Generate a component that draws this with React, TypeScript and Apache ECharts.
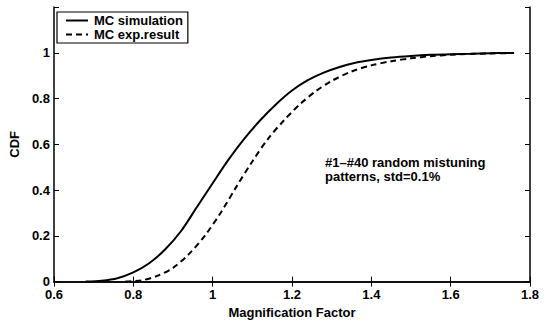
import React, { useEffect, useRef } from "react";
import * as echarts from "echarts";

const simX = [0.68, 0.72, 0.76, 0.8, 0.84, 0.88, 0.92, 0.96, 1.0, 1.04, 1.08, 1.12, 1.16, 1.2, 1.24, 1.28, 1.32, 1.36, 1.4, 1.45, 1.5, 1.55, 1.6, 1.65, 1.7, 1.75];
const simY = [0, 0.004, 0.015, 0.04, 0.08, 0.14, 0.22, 0.325, 0.43, 0.533, 0.625, 0.705, 0.775, 0.835, 0.88, 0.913, 0.938, 0.956, 0.968, 0.979, 0.986, 0.991, 0.994, 0.996, 0.998, 0.999];
const expX = [0.78, 0.82, 0.86, 0.9, 0.94, 0.98, 1.02, 1.06, 1.1, 1.14, 1.18, 1.22, 1.26, 1.3, 1.35, 1.4, 1.45, 1.5, 1.55, 1.6, 1.65, 1.7, 1.76];
const expY = [0, 0.005, 0.025, 0.06, 0.12, 0.2, 0.3, 0.415, 0.525, 0.625, 0.705, 0.775, 0.832, 0.877, 0.918, 0.945, 0.963, 0.976, 0.985, 0.991, 0.995, 0.997, 0.999];
const seriesNames = ["MC simulation", "MC exp.result"];
const annotation = ["#1\u2013#40 random mistuning", "patterns, std=0.1%"];
const xTitle = "Magnification Factor";
const yTitle = "CDF";

const FONT = "'Liberation Sans', Arial, Helvetica, sans-serif";

export default function App() {
  const ref = useRef<HTMLDivElement>(null);
  useEffect(() => {
    if (!ref.current) return;
    const chart = echarts.init(ref.current, null, { renderer: "svg" });
    const txt = { fontFamily: FONT, fontWeight: "bold" as const, fontSize: 13, color: "#000" };
    const axisLine = { show: true, lineStyle: { color: "#000", width: 1.5 } };
    const tick = { show: true, inside: true, length: 5, lineStyle: { color: "#000", width: 1 } };
    chart.setOption({
      animation: false,
      backgroundColor: "#fff",
      grid: { left: 52, right: 18, top: 7, bottom: 39, containLabel: false },
      legend: {
        show: true,
        orient: "vertical",
        left: 57,
        top: 12,
        padding: [2, 5, 2, 8],
        itemGap: 1,
        itemWidth: 22,
        itemHeight: 14,
        borderColor: "#000",
        borderWidth: 1.2,
        backgroundColor: "#fff",
        itemStyle: { opacity: 0 },
        textStyle: { ...txt, padding: [0, 0, 0, 1] },
        data: seriesNames,
      },
      xAxis: [
        {
          type: "value",
          min: 0.6,
          max: 1.8,
          interval: 0.2,
          position: "bottom",
          axisLine,
          axisTick: tick,
          splitLine: { show: false },
          axisLabel: {
            ...txt,
            margin: 7,
            lineHeight: 12,
            formatter: (v: number) => String(Math.round(v * 10) / 10),
          },
          name: xTitle,
          nameLocation: "middle",
          nameGap: 18,
          nameTextStyle: txt,
        },
        {
          type: "value",
          min: 0.6,
          max: 1.8,
          interval: 0.2,
          position: "top",
          axisLine,
          axisTick: tick,
          splitLine: { show: false },
          axisLabel: { show: false },
        },
      ],
      yAxis: [
        {
          type: "value",
          min: 0,
          max: 1.2,
          interval: 0.2,
          position: "left",
          axisLine,
          axisTick: tick,
          splitLine: { show: false },
          axisLabel: {
            ...txt,
            margin: 4,
            lineHeight: 10,
            formatter: (v: number) => (v > 1.05 ? "" : String(Math.round(v * 10) / 10)),
          },
          name: yTitle,
          nameLocation: "middle",
          nameGap: 24,
          nameTextStyle: txt,
        },
        {
          type: "value",
          min: 0,
          max: 1.2,
          interval: 0.2,
          position: "right",
          axisLine,
          axisTick: tick,
          splitLine: { show: false },
          axisLabel: { show: false },
        },
      ],
      graphic: [
        {
          type: "text",
          left: 325,
          top: 155,
          style: {
            text: annotation.join("\n"),
            font: `bold 13px ${FONT}`,
            fill: "#000",
            lineHeight: 14,
          },
        },
      ],
      series: [
        {
          name: seriesNames[0],
          type: "line",
          xAxisIndex: 0,
          yAxisIndex: 0,
          data: simX.map((x, i) => [x, simY[i]]),
          showSymbol: false,
          symbol: "none",
          smooth: 0.3,
          lineStyle: { color: "#000", width: 2, type: "solid" },
          itemStyle: { color: "#000" },
        },
        {
          name: seriesNames[1],
          type: "line",
          xAxisIndex: 0,
          yAxisIndex: 0,
          data: expX.map((x, i) => [x, expY[i]]),
          showSymbol: false,
          symbol: "none",
          smooth: 0.3,
          lineStyle: { color: "#000", width: 2, type: [6, 4] },
          itemStyle: { color: "#000" },
        },
      ],
    });
    return () => chart.dispose();
  }, []);
  return (
    <div
      ref={ref}
      style={{ position: "fixed", left: 0, top: 0, width: 548, height: 324, background: "#fff" }}
    />
  );
}
